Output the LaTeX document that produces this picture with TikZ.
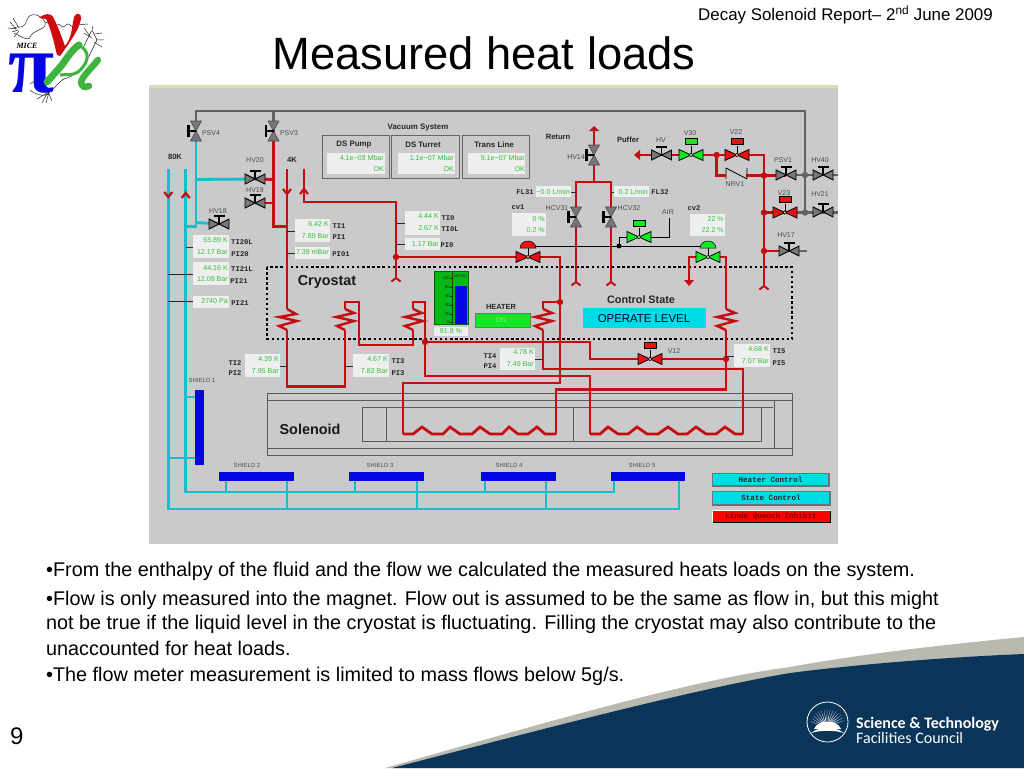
\documentclass[tikz,border=0pt]{standalone}
\usepackage{fontspec}
\setmainfont{Liberation Sans}
\newfontfamily\monof{Liberation Mono}
\newfontfamily\serif{Liberation Serif}
\newfontfamily\carl{Carlito}
\usetikzlibrary{calc}
\definecolor{panel}{HTML}{CAC9CC}
\definecolor{strip}{HTML}{D9DDB2}
\definecolor{redp}{HTML}{C40D0F}
\definecolor{cyanp}{HTML}{12BFCB}
\definecolor{grayp}{HTML}{626264}
\definecolor{valg}{HTML}{777779}
\definecolor{brightred}{HTML}{EE1111}
\definecolor{brightgreen}{HTML}{11E81F}
\definecolor{valtext}{HTML}{2FBF3A}
\definecolor{valbg}{HTML}{EFEFEF}
\definecolor{bluebar}{HTML}{0505E6}
\definecolor{cyanbox}{HTML}{00DCE6}
\definecolor{navy}{HTML}{0B3459}
\definecolor{swoosh}{HTML}{B8BAB0}
\definecolor{tankg}{HTML}{05B815}
\definecolor{logog}{HTML}{3DB53D}
\tikzset{
  redpipe/.style={draw=redp,line width=2.8pt,line join=miter},
  coilline/.style={draw=redp,line width=2.4pt,line join=miter},
  cyanpipe/.style={draw=cyanp,line width=2.8pt},
  graypipe/.style={draw=grayp,line width=2.6pt},
  ticked/.style={draw=black!85,line width=0.9pt},
  lbl/.style={font=\fontsize{7}{8}\selectfont,text=black!70,inner sep=0pt},
  tag/.style={font=\monof\bfseries\fontsize{7.2}{8}\selectfont,text=black!85,inner sep=0pt},
  valt/.style={font=\fontsize{7.1}{8}\selectfont,text=valtext,inner sep=0pt,anchor=east},
  head/.style={font=\bfseries\fontsize{7.9}{9}\selectfont,text=black!85,inner sep=0pt},
  big/.style={font=\bfseries\fontsize{14.4}{15}\selectfont,text=black!90,inner sep=0pt},
  shield/.style={fill=bluebar,draw=none},
  btext/.style={font=\monof\bfseries\fontsize{7.6}{8}\selectfont,inner sep=0pt},
  bullet/.style={font=\fontsize{19.8}{22}\selectfont,anchor=west,inner sep=0pt,text=black},
  doodle/.style={draw=black!85,line width=0.5pt,rounded corners=1pt}
}
\newcommand{\vb}[4]{\fill[valbg] (#1,#2) rectangle (#3,#4);}
\newcommand{\hv}[3]{%
  \begin{scope}[shift={(#2,#3)}]
    \draw[black,line width=0.9pt,fill=valg] (-10,-5)--(10,5)--(10,-5)--(-10,5)--cycle;
    \draw[black,line width=1.4pt] (0,0)--(0,-8);
    \draw[black,line width=2.2pt] (-5.5,-8)--(5.5,-8);
  \end{scope}}
\newcommand{\vv}[3]{%
  \begin{scope}[shift={(#2,#3)}]
    \draw[black!70,line width=0.6pt,fill=valg] (-5.5,-10)--(5.5,10)--(-5.5,10)--(5.5,-10)--cycle;
    \draw[black,line width=1.6pt] (0,0)--(-7.5,0);
    \draw[black,line width=2.4pt] (-7.5,-6)--(-7.5,6);
  \end{scope}}
\newcommand{\cv}[4]{% colour box-actuator valve
  \begin{scope}[shift={(#3,#4)}]
    \draw[black,line width=0.8pt,fill=#2] (-12,-5.5)--(12,5.5)--(12,-5.5)--(-12,5.5)--cycle;
    \draw[black,line width=0.8pt] (0,0)--(0,-9);
    \draw[black,line width=0.6pt,fill=#2] (-6,-16.5) rectangle (6,-10.5);
    \draw[black,fill=white!70!#2,line width=0.5pt] (0,0) circle (1.7);
  \end{scope}}
\newcommand{\dv}[4]{% dome-actuator valve
  \begin{scope}[shift={(#3,#4)}]
    \draw[black,line width=0.8pt,fill=#2] (-12,-5.5)--(12,5.5)--(12,-5.5)--(-12,5.5)--cycle;
    \draw[black,line width=0.8pt] (0,0)--(0,-9);
    \draw[black,line width=0.5pt,fill=#2] (-8,-9) arc[start angle=180,end angle=0,x radius=8pt,y radius=7pt] -- cycle;
    \draw[black,fill=white!70!#2,line width=0.5pt] (0,0) circle (1.7);
  \end{scope}}
\newcommand{\fork}[2]{\draw[redp,line width=2pt,line join=round] (#1-4.5,#2+2.5)--(#1,#2-1)--(#1+4.5,#2+2.5);}
\newcommand{\chevd}[3]{\draw[#3,line width=2.2pt] (#1-4,#2-3)--(#1,#2+2)--(#1+4,#2-3);}
\newcommand{\chevu}[3]{\draw[#3,line width=2.2pt] (#1-4,#2+3)--(#1,#2-2)--(#1+4,#2+3);}
\newcommand{\dotj}[3]{\fill[#3] (#1,#2) circle (3.2);}
\begin{document}
\begin{tikzpicture}[x=1pt,y=-1pt]
\useasboundingbox (0,0) rectangle (1024,768);
\fill[white] (0,0) rectangle (1024,768);
% swoosh
\fill[swoosh] (385,768) .. controls (544,723) and (690,680) .. (790,667) .. controls (860,654) and (950,644) .. (1024,637) -- (1024,768) -- cycle;
\fill[navy] (392,768) .. controls (540,730) and (690,690) .. (790,673) .. controls (860,664) and (950,657) .. (1024,654) -- (1024,768) -- cycle;
% STFC logo
\draw[white,line width=0.8pt] (827.5,722) ellipse (20.5 and 20);
\foreach \a in {20,30,...,160}{\fill[white] (827.5,727) -- ++(-\a-3:8 and 8) -- ++(-\a:10 and 10) -- ++(-\a+180+3:10 and 10) -- cycle;}
\fill[white] (814,729) .. controls (818,719) and (837,719) .. (841,729) -- cycle;
\fill[white] (811,733) .. controls (820,726) and (835,726) .. (844,733) .. controls (835,730) and (820,730) .. (811,733) -- cycle;
\node[anchor=west,inner sep=0,text=white,font=\carl\bfseries\fontsize{16}{16}\selectfont] (stfca) at (856,724) {Science \& Technology};
\node[anchor=west,inner sep=0,text=white,font=\carl\fontsize{16}{16}\selectfont] (stfcb) at (856,738) {Facilities Council};
% logo
\begin{scope}
  \draw[doodle] (14,28) .. controls (18,24) and (22,32) .. (27,20) .. controls (30,12) and (40,14) .. (45,22) .. controls (47,30) and (32,30) .. (30,38) .. controls (26,40) and (20,36) .. (14,33);
  \draw[doodle] (10,22)--(16,29) (12,32)--(18,30) (13,18)--(19,28) (14,37)--(19,31) (8,28)--(17,29);
  \draw[doodle] (45,22) -- (50,24) (57,25) .. controls (60,22) and (62,30) .. (66,25) .. controls (69,22) and (72,29) .. (75,25) -- (88,24);
  \draw[doodle] (84,46) -- (92,30) -- (97,40) -- (92,50) -- (88,58);
  \draw[doodle] (92,30)--(93,26) (84,33)--(92,38) (95,34)--(102,33) (96,40)--(104,40) (84,28)--(90,36) (94,42)--(102,47);
  \draw[doodle] (30,84) .. controls (36,78) and (46,84) .. (50,92) .. controls (46,98) and (34,94) .. (30,90) (50,92) -- (60,82) .. controls (66,76) and (70,80) .. (75,72) (48,92)--(42,103) (48,92)--(52,101) (47,93)--(37,99) (49,92)--(46,103);
  \fill[redp!80!red] (39,18) .. controls (45,13) and (51,13) .. (53,17) .. controls (58,26) and (62,38) .. (65,46) .. controls (72,38) and (72,26) .. (74,17) .. controls (76,12) and (82,13) .. (81,19) .. controls (79,30) and (70,42) .. (60,56) -- (57,55) .. controls (54,42) and (50,26) .. (46,19) -- cycle;
  \node[inner sep=0,text=bluebar,font=\serif\bfseries\fontsize{84}{84}\selectfont] (logopi) at (32,74) {π};
  \draw[logog,line width=7pt,line cap=round] (47,82) -- (62,65) .. controls (68,56) and (74,48) .. (79,45);
  \draw[logog,line width=3pt] (79,45) .. controls (88,50) and (92,60) .. (78,72) .. controls (72,76) and (66,74) .. (60,75);
  \draw[logog,line width=6.5pt,line cap=round] (98,60) .. controls (90,70) and (78,80) .. (82,85) .. controls (84,88) and (86,87) .. (89,86);
  \node[inner sep=0,text=black,font=\serif\bfseries\itshape\fontsize{8}{9}\selectfont] (logomice) at (27,46) {MICE};
\end{scope}
% header
\node[anchor=east,inner sep=0,font=\fontsize{16.9}{18}\selectfont] (report) at (993,15) {Decay Solenoid Report– 2\textsuperscript{nd} June 2009};
\node[inner sep=0,font=\fontsize{45.3}{48}\selectfont] (title) at (484,53) {Measured heat loads};
% bullets
\node[bullet] (b1) at (46,571) {•From the enthalpy of the fluid and the flow we calculated the measured heats loads on the system.};
\node[bullet] (b2) at (46,600) {•Flow is only measured into the magnet. Flow out is assumed to be the same as flow in, but this might};
\node[bullet] (b3) at (46,624) {not be true if the liquid level in the cryostat is fluctuating. Filling the cryostat may also contribute to the};
\node[bullet] (b4) at (46,648) {unaccounted for heat loads.};
\node[bullet] (b5) at (46,676) {•The flow meter measurement is limited to mass flows below 5g/s.};
\node[anchor=west,inner sep=0,font=\fontsize{24}{25}\selectfont] (pagenum) at (10,736) {9};
% panel
\fill[panel] (149,85) rectangle (838,544);
\fill[strip] (149,85) rectangle (838,88);
% named pipe ends
\coordinate (psv4) at (196,131); \coordinate (psv3) at (273.5,131);
\coordinate (hv20) at (255,179); \coordinate (hv19) at (255,203);
\coordinate (hv18) at (219,224); \coordinate (v12) at (650,359);
\coordinate (cv1) at (528,257); \coordinate (cv2) at (708,257);
% gray pipes
\draw[graypipe] (psv4) -- (196,111) -- (805,111) -- (805,213);
\draw[graypipe] (psv3) -- (273.5,111);
\draw[graypipe] (786,175) -- (838,175);
\draw[graypipe] (785,212.5) -- (838,212.5);
\draw[graypipe] (789,251) -- (807,251);
\dotj{805}{175}{grayp} \dotj{805}{212.5}{grayp}
% cyan pipes
\draw[cyanpipe] (psv4) -- (196,226.5) -- (185.7,226.5);
\draw[cyanpipe] (196,179.5) -- (hv20);
\draw[cyanpipe] (196,222.5) -- (hv18);
\draw[cyanpipe] (168.3,169) -- (168.3,509) -- (679,509) -- (679,480);
\draw[cyanpipe] (185.7,169) -- (185.7,492) -- (614,492) -- (614,480);
\draw[cyanpipe] (185.7,397) -- (196,397);
\draw[cyanpipe] (168.3,458) -- (196,458);
\foreach \x in {226,355,485}{\draw[cyanpipe] (\x,480) -- (\x,492);}
\foreach \x in {287,417,546}{\draw[cyanpipe] (\x,480) -- (\x,509);}
\chevd{168.3}{195}{redp} \chevu{185.7}{195}{redp}
% shields
\fill[shield] (195,390) rectangle (204,465);
\fill[shield] (219,472) rectangle (294,480.5);
\fill[shield] (349,472) rectangle (424,480.5);
\fill[shield] (481,472) rectangle (556,480.5);
\fill[shield] (610.7,472) rectangle (685,480.5);
% solenoid
\draw[black!65,line width=0.8pt] (267,393.7) rectangle (792,455);
\draw[black!65,line width=0.8pt] (267,400.5) -- (792,400.5) (267,448) -- (792,448) (774,400.5) -- (774,448);
\draw[black!65,line width=0.8pt] (773,407) -- (362,407) -- (362,441.7) -- (761,441.7) -- (761,407);
\draw[black!65,line width=0.8pt] (386,407) -- (386,441.7) (573,407) -- (573,441.7);
% cryostat
\draw[black,line width=2.6pt,dash pattern=on 2.5pt off 2.6pt] (267,267) rectangle (792,339);
% red pipes
\draw[redpipe] (psv3) -- (273.5,226.5) -- (287,226.5);
\draw[redpipe] (273.5,179.5) -- (hv20);
\draw[redpipe] (273.5,203) -- (hv19);
\draw[redpipe] (287,169) -- (287,309);
\draw[coilline] (287,309) -- (296,314) -- (279,317) -- (297,321) -- (279,326) -- (287,330);
\draw[redpipe] (287,330) -- (287,386.7) -- (345,386.7) -- (345,330);
\draw[coilline] (345,330) -- (337,326) -- (354,321) -- (336,317) -- (354,313) -- (345,309);
\draw[redpipe] (345,309) -- (345,302) -- (359,302) -- (359,345) -- (413,345) -- (413,330);
\draw[coilline] (413,330) -- (405,326) -- (423,321) -- (405,317) -- (422,313) -- (413,309);
\draw[redpipe] (413,309) -- (413,302) -- (425,302) -- (425,376) -- (590,376) -- (590,434);
\draw[redpipe] (590,434) -- (600,434) -- (608,427) -- (618,434) -- (628,434) -- (637,427) -- (647,434) -- (658,434) -- (668,427) -- (678,434) -- (687,434) -- (696,427) -- (706,434) -- (716,434) -- (725,427) -- (735,434) -- (743,434);
\draw[redpipe] (743,434) -- (743,369) -- (543,369) -- (543,330);
\draw[coilline] (543,330) -- (535,326) -- (552,321) -- (535,317) -- (552,313) -- (543,309);
\draw[redpipe] (543,309) -- (543,302) -- (560,302);
\draw[redpipe] (cv1) -- (560,257) -- (560,383) -- (403,383) -- (403,434);
\draw[redpipe] (403,434) -- (413,434) -- (422,427) -- (432,434) -- (443,434) -- (450,427) -- (460,434) -- (472,434) -- (480,427) -- (490,434) -- (502,434) -- (509,427) -- (518,434) -- (528,434) -- (537,427) -- (545,434) -- (556,434);
\draw[redpipe] (556,434) -- (556,389.5) -- (726,389.5) -- (726,330);
\draw[coilline] (726,330) -- (717,326) -- (735,321) -- (717,317) -- (735,313) -- (726,309);
\draw[redpipe] (726,309) -- (726,257) -- (cv2);
\draw[redpipe] (cv2) -- (689,257) -- (689,283);
\fill[redp] (684,280) -- (694,280) -- (689,286) -- cycle;
\draw[redpipe] (425,342) -- (590,342) -- (590,359) -- (v12) -- (726,359);
\draw[redpipe] (304,169) -- (304,202) -- (396,202) -- (396,279);
\draw[redpipe] (396,257) -- (cv1);
\draw[redpipe] (594,130) -- (594,182);
\fill[redp] (589,131) -- (599,131) -- (594,126) -- cycle;
\draw[redpipe] (576,283) -- (576,182) -- (611,182) -- (611,283);
\draw[redpipe] (638,155) -- (764,155) -- (764,287);
\fill[redp] (640,150) -- (640,160) -- (634,155) -- cycle;
\draw[redpipe] (716.7,155) -- (716.7,175.5) -- (726,175.5);
\draw[redpipe] (746,175.5) -- (786,175.5);
\draw[redpipe] (764,212.5) -- (785,212.5);
\draw[redpipe] (764,251) -- (789,251);
\fork{396}{279} \fork{576}{283} \fork{611}{283} \fork{764}{287}
\chevd{287}{192}{redp} \chevu{304}{191}{redp}
\dotj{396}{257}{redp} \dotj{560}{302}{redp} \dotj{425}{342}{redp} \dotj{726}{359}{redp}
\dotj{716.7}{155}{redp} \dotj{764}{175.5}{redp} \dotj{764}{212.5}{redp} \dotj{764}{251}{redp}
% air lines
\draw[black,line width=1pt] (528,246) -- (708,246);
\draw[black,line width=1pt] (619,246) -- (619,237) -- (669,237) -- (669,218);
\fill[black] (619,246) circle (2.5);
% ticks
\draw[ticked] (287,231)--(295,231) (287,253)--(295,253) (396,223)--(405,223) (396,244)--(405,244)
 (186,247)--(193,247) (168,274)--(193,274) (168,301)--(193,301) (280,366)--(287,366) (345,366)--(353,366)
 (535,359)--(543,359) (726,356)--(734,356) (571,192)--(576,192) (611,192)--(614,192);
% valves
\vv{psv4}{196}{131} \vv{psv3}{273.5}{131} \vv{hv14}{594}{155} \vv{hcv31}{576}{217} \vv{hcv32}{611}{217}
\hv{hv20}{255}{179} \hv{hv19}{255}{203} \hv{hv18}{219}{224} \hv{hvp}{661.5}{155}
\hv{psv1}{786}{175} \hv{hv40}{823}{175} \hv{hv21}{823}{212} \hv{hv17}{789}{251}
\cv{v30}{brightgreen}{691}{155} \cv{v22}{brightred}{737}{155} \cv{v23}{brightred}{785}{212.5} \cv{v12v}{brightred}{650}{359}
\cv{air}{brightgreen}{639}{237}
\dv{cv1v}{brightred}{528}{257} \dv{cv2v}{brightgreen}{708}{257}
% check valve
\fill[panel] (726,168) rectangle (746,183);
\draw[black,line width=0.8pt] (726,168) -- (726,179) (747,168) -- (747,179) (726,168) -- (747,179);
\draw[redpipe] (716.7,175.5) -- (726,175.5) (747,175.5) -- (764,175.5);
% vacuum system
\node[head] (vac) at (418,128) {Vacuum System};
\foreach \a/\b/\c/\d in {322/389/327/385,391/459/398/455,462/529/468/525}{
  \draw[black!60,line width=0.8pt] (\a,135) rectangle (\b,178);
  \fill[valbg] (\c,153) rectangle (\d,174);
}
\node[head] (dspump) at (354,145) {DS Pump};
\node[head] (dsturret) at (423,145) {DS Turret};
\node[head] (trans) at (494,145) {Trans Line};
\node[valt] (v1a) at (384,158) {4.1e−03 Mbar}; \node[valt] (v1b) at (384,169) {OK};
\node[valt] (v2a) at (454,158) {1.1e−07 Mbar}; \node[valt] (v2b) at (454,169) {OK};
\node[valt] (v3a) at (525,158) {9.1e−07 Mbar}; \node[valt] (v3b) at (525,169) {OK};
% value boxes
\vb{295}{219}{330}{242} \vb{295}{247}{330}{259} \vb{405}{211}{440}{235} \vb{405}{238}{440}{250}
\vb{193}{235}{229}{258} \vb{193}{262}{229}{285} \vb{193}{296}{229}{308} \vb{245}{354}{280}{377}
\vb{353}{354}{389}{377} \vb{500}{348}{535}{370} \vb{734}{344}{770}{367} \vb{536}{186}{571}{197}
\vb{614}{186}{649}{197} \vb{512}{213}{546}{236} \vb{690}{214}{725}{236} \vb{434}{327}{468}{336}
\node[valt] (a1) at (329,224.5) {6.42 K}; \node[valt] (a2) at (329,236) {7.89 Bar};
\node[valt] (a3) at (329,252.5) {7.39 mBar};
\node[valt] (a4) at (439,216.5) {4.44 K}; \node[valt] (a5) at (439,228.5) {2.67 K}; \node[valt] (a6) at (439,244) {1.17 Bar};
\node[valt] (a7) at (228,240.5) {55.89 K}; \node[valt] (a8) at (228,252) {12.17 Bar};
\node[valt] (a9) at (228,268) {44.16 K}; \node[valt] (a10) at (228,279.5) {12.09 Bar};
\node[valt] (a11) at (228,301.5) {2740 Pa};
\node[valt] (a12) at (279,359.5) {4.39 K}; \node[valt] (a13) at (279,371) {7.95 Bar};
\node[valt] (a14) at (388,359.5) {4.67 K}; \node[valt] (a15) at (388,371) {7.82 Bar};
\node[valt] (a16) at (534,352.5) {4.78 K}; \node[valt] (a17) at (534,364) {7.49 Bar};
\node[valt] (a18) at (769,349) {4.68 K}; \node[valt] (a19) at (769,361) {7.07 Bar};
\node[valt] (a20) at (570,191.5) {−0.0 L/min}; \node[valt] (a21) at (648,191.5) {0.2 L/min};
\node[valt] (a22) at (545,219) {0 \%}; \node[valt] (a23) at (545,230.5) {0.2 \%};
\node[valt] (a24) at (724,219) {22 \%}; \node[valt] (a25) at (724,230.5) {22.2 \%};
\node[valt,anchor=center] (a26) at (451,331.5) {81.8 \%};
% tags
\foreach \n/\x/\y/\t in {t1/339/226/TI1,t2/339/237/PI1,t3/341/254/PI01,t4/448/218/TI0,t5/450/229/TI0L,t6/447/245/PI0,
 t7/242/242/TI20L,t8/240/254/PI20,t9/242/269/TI21L,t10/239/281/PI21,t11/240/303/PI21,t12/235/363/TI2,t13/235/373/PI2,
 t14/398/361/TI3,t15/398/373/PI3,t16/490/356/TI4,t17/490/366/PI4,t18/779/351/TI5,t19/779/363/PI5,t20/525/192/FL31,
 t21/660/192/FL32,t22/518/207/cv1,t23/694/208/cv2}{
  \node[tag] (\n) at (\x,\y) {\t};
}
% labels
\foreach \n/\x/\y/\t in {l1/211/133/PSV4,l2/289/133/PSV3,l3/255/160/HV20,l4/255/190/HV19,l5/218/211/HV18,
 l6/576/157/HV14,l7/661/140/HV,l8/690/133/V30,l9/736/132/V22,l10/735/184/NRV1,l11/783/160/PSV1,l12/820/160/HV40,
 l13/784/193/V23,l14/820/194/HV21,l15/786/235/HV17,l16/557/208/HCV31,l17/629/208/HCV32,l18/674/351/V12,l19/668/212/AIR}{
  \node[lbl] (\n) at (\x,\y) {\t};
}
\foreach \n/\x/\y/\t in {s1/202/380/SHIELD 1,s2/247/465/SHIELD 2,s3/380/465/SHIELD 3,s4/509/465/SHIELD 4,s5/642/465/SHIELD 5}{
  \node[lbl,font=\fontsize{6}{7}\selectfont] (\n) at (\x,\y) {\t};
}
\node[head,font=\bfseries\fontsize{7.6}{8}\selectfont] (k80) at (175,157) {80K};
\node[head,font=\bfseries\fontsize{7.6}{8}\selectfont] (k4) at (292,160) {4K};
\node[head,font=\bfseries\fontsize{7.6}{8}\selectfont] (ret) at (558,137) {Return};
\node[head,font=\bfseries\fontsize{7.6}{8}\selectfont] (puff) at (628,140) {Puffer};
\node[big] (cryo) at (327,282) {Cryostat};
\node[big] (sol) at (310,429) {Solenoid};
% level gauge
\fill[tankg] (434,271) rectangle (468,324.5);
\draw[green!40!black,line width=0.7pt] (434,271) rectangle (468,324.5);
\draw[green!30!black,line width=0.6pt] (452.7,271) -- (452.7,324.5);
\fill[bluebar] (455,286) rectangle (467,323.7);
\foreach \v/\y in {100/278,80/287,60/296,40/304.7,20/313.7,0/322}{
  \node[anchor=east,inner sep=0,text=black!85,font=\fontsize{4.4}{5}\selectfont] (g\v) at (450,\y) {\v};
  \draw[black!85,line width=0.4pt] (450.3,\y) -- (452.7,\y);
}
\node[inner sep=0,text=black!85,font=\fontsize{4.2}{5}\selectfont] (glevel) at (460.5,276) {LEVEL};
% heater
\node[head,font=\bfseries\fontsize{7.4}{8}\selectfont] (heater) at (501,307) {HEATER};
\fill[brightgreen] (475,313) rectangle (530,327);
\draw[black!55,line width=0.6pt] (475,313) rectangle (530,327);
\node[inner sep=0,text=green!55!white,font=\fontsize{7}{8}\selectfont] (on) at (501,320.5) {ON};
% control state
\node[head,font=\bfseries\fontsize{10.8}{12}\selectfont] (cstate) at (641,300) {Control State};
\fill[cyanbox] (583,308) rectangle (706,328);
\node[inner sep=0,text=black!85!blue,font=\fontsize{11.4}{12}\selectfont] (oplevel) at (644,318.5) {OPERATE LEVEL};
% buttons
\draw[black!55,line width=1.4pt,fill=cyanbox] (712.5,473.5) rectangle (829,486);
\node[btext,text=black!85] (bh) at (770.5,479.5) {Heater Control};
\draw[black!55,line width=1.4pt,fill=cyanbox] (712.5,491.5) rectangle (830,505);
\node[btext,text=black!85] (bs) at (771,497.5) {State Control};
\fill[white] (711.5,509.5) rectangle (831,523);
\fill[black] (713,511) rectangle (831,523);
\fill[red] (713,511) rectangle (830,522);
\node[btext,text=red!50!black] (bl) at (771,516.5) {Linde Quench Inhibit};
\end{tikzpicture}
\end{document}
